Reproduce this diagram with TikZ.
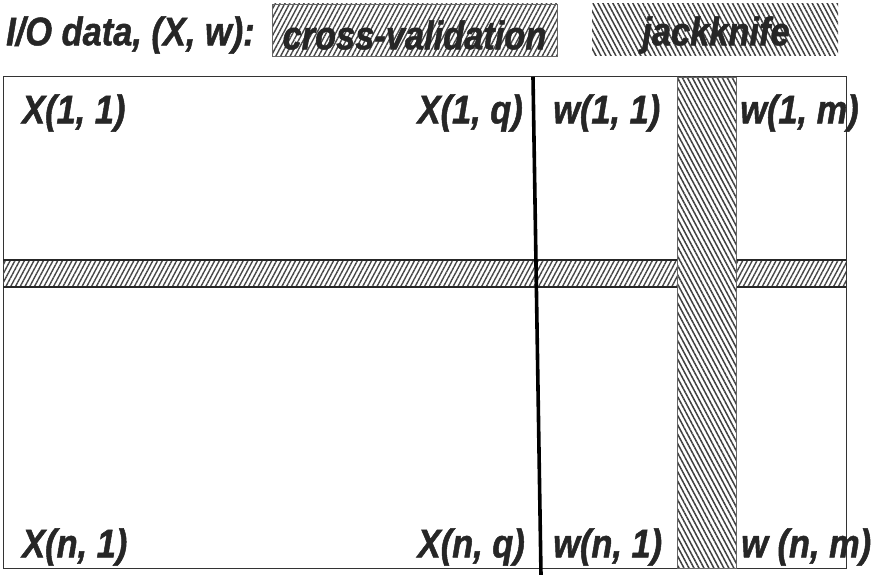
\documentclass[tikz,border=0pt]{standalone}
\usepackage{fontspec}
\setmainfont{Liberation Sans}
\newfontfamily\lblfont[FakeStretch=0.86,FakeBold=1.2]{Liberation Sans}
\usetikzlibrary{patterns.meta}
\tikzset{
  lbl/.style={inner sep=0pt, font=\lblfont\bfseries\itshape\fontsize{40}{44}\selectfont, text=black!85},
  cvfill/.style={pattern={Lines[angle=62,distance=4.2pt,line width=1.4pt]}, pattern color=black!72},
  jkfill/.style={pattern={Lines[angle=-62,distance=4.4pt,line width=1.5pt]}, pattern color=black!75},
  frame/.style={draw=black!80, line width=1pt}
}
\begin{document}
\begin{tikzpicture}[x=1pt,y=-1pt]
\useasboundingbox (0,0) rectangle (871,575);
% legend
\node[lbl, anchor=west] (io) at (6,35) {I/O data, (X, w):};
\path[cvfill, draw=black!60, line width=0.8pt] (272,4) rectangle (557,56);
\node[lbl] (cv) at (414.5,35) {cross-validation};
\path[jkfill] (592,4) rectangle (838,56);
\node[lbl] (jk) at (716,35) {jackknife};
% main matrix
\node[frame, minimum width=843pt, minimum height=491pt, inner sep=0pt] (main) at (424.5,322.5) {};
\path[cvfill] (3,260) rectangle (846,287);
\draw[black!85, line width=1.2pt] (3,260) -- (846,260) (3,287) -- (846,287);
\path[fill=white] (677,77) rectangle (736,568);
\path[jkfill, draw=black!60, line width=0.8pt] (677,77) rectangle (736,568);
% labels
\node[lbl, anchor=west] (x11) at (22,113) {X(1, 1)};
\node[lbl, anchor=east] (x1q) at (523,113) {X(1, q)};
\node[lbl, anchor=west] (w11) at (553,113) {w(1, 1)};
\node[lbl, anchor=west] (w1m) at (740,113) {w(1, m)};
\node[lbl, anchor=west] (xn1) at (22,547) {X(n, 1)};
\node[lbl, anchor=east] (xnq) at (525,547) {X(n, q)};
\node[lbl, anchor=west] (wn1) at (553,547) {w(n, 1)};
\node[lbl, anchor=west] (wnm) at (741,547) {w (n, m)};
% separator line
\coordinate (septop) at (533,77);
\coordinate (sepbot) at (541,575);
\draw[black, line width=3.6pt] (septop) -- (sepbot);
\end{tikzpicture}
\end{document}
